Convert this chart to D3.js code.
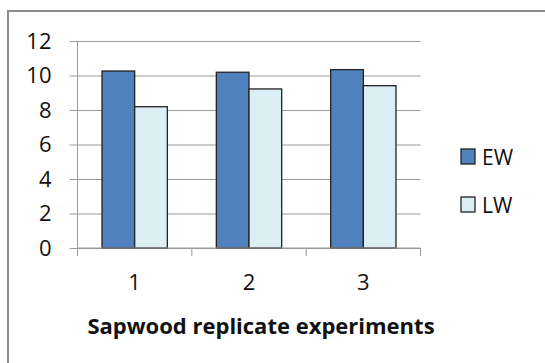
<!DOCTYPE html>
<html>
<head>
<meta charset="utf-8">
<script src="https://cdn.jsdelivr.net/npm/d3@7"></script>
<style>
  html, body { margin: 0; padding: 0; background: #fff; }
  svg { display: block; }
  text { font-family: "Open Sans", Lato, sans-serif; fill: #111; }
</style>
</head>
<body>
<svg id="chart" width="545" height="363"></svg>
<script>
const categories = ["1", "2", "3"];
const seriesNames = ["EW", "LW"];
const ewValues = [10.26, 10.19, 10.34];
const lwValues = [8.19, 9.22, 9.41];
const yTicks = [0, 2, 4, 6, 8, 10, 12];
const xTitle = "Sapwood replicate experiments";
const colors = ["#4F81BD", "#DBEEF3"];

const seriesValues = [ewValues, lwValues];
const svg = d3.select("#chart");
const FONT = "'Open Sans', Lato, sans-serif";

// outer border (only left and top visible in picture)
svg.append("rect")
  .attr("x", 8).attr("y", 11)
  .attr("width", 560).attr("height", 380)
  .attr("fill", "none").attr("stroke", "#8c8c8c").attr("stroke-width", 2);

const plotLeft = 77.5, plotRight = 420.5, plotTop = 41, plotBottom = 248;

const y = d3.scaleLinear().domain([0, 12]).range([plotBottom, plotTop]);
const x0 = d3.scaleBand().domain(categories).range([plotLeft, plotRight]).padding(0);
const x1 = d3.scaleBand().domain(seriesNames).range([0, x0.bandwidth()])
  .paddingInner(0).paddingOuter(0.75);

// gridlines + y ticks
const yAxis = d3.axisLeft(y).tickValues(yTicks).tickSize(8).tickPadding(18)
  .tickFormat(d3.format("d"));
const gy = svg.append("g").attr("transform", `translate(${plotLeft},0)`).call(yAxis);
gy.attr("font-family", FONT).attr("font-size", 22);
gy.select(".domain").remove();
gy.selectAll(".tick line").attr("stroke", "#9a9a9a");
gy.selectAll(".tick text").attr("fill", "#111").attr("dy", "0.34em");
gy.selectAll(".tick").append("line")
  .attr("x1", 0).attr("x2", plotRight - plotLeft)
  .attr("stroke", "#9a9a9a").attr("stroke-width", 1);

// y axis line
svg.append("line")
  .attr("x1", plotLeft).attr("x2", plotLeft).attr("y1", plotTop).attr("y2", plotBottom + 8)
  .attr("stroke", "#9a9a9a");

// bars
const groups = svg.append("g").selectAll("g")
  .data(categories).join("g")
  .attr("transform", d => `translate(${x0(d)},0)`);
groups.selectAll("rect")
  .data((c, i) => seriesNames.map((s, j) => ({ s, j, v: seriesValues[j][i] })))
  .join("rect")
  .attr("x", d => x1(d.s))
  .attr("width", x1.bandwidth())
  .attr("y", d => y(d.v))
  .attr("height", d => y(0) - y(d.v))
  .attr("fill", d => colors[d.j])
  .attr("stroke", "#222").attr("stroke-width", 1.3);

// x axis
const xBound = d3.scaleLinear().domain([0, categories.length]).range([plotLeft, plotRight]);
const gx = svg.append("g");
gx.append("line").attr("x1", plotLeft).attr("x2", plotRight).attr("y1", plotBottom).attr("y2", plotBottom)
  .attr("stroke", "#9a9a9a");
gx.selectAll("line.tk").data(d3.range(categories.length + 1)).join("line")
  .attr("class", "tk")
  .attr("x1", d => xBound(d)).attr("x2", d => xBound(d))
  .attr("y1", plotBottom).attr("y2", plotBottom + 8).attr("stroke", "#9a9a9a");
gx.selectAll("text").data(categories).join("text")
  .attr("x", d => x0(d) + x0.bandwidth() / 2)
  .attr("y", 290)
  .attr("text-anchor", "middle")
  .style("font-size", "22px")
  .text(d => d);

svg.append("text")
  .attr("x", 261).attr("y", 334)
  .attr("text-anchor", "middle")
  .style("font-size", "22px").style("font-weight", "bold")
  .text(xTitle);

// legend
const legend = svg.append("g").selectAll("g").data(seriesNames).join("g")
  .attr("transform", (d, i) => `translate(461,${149 + i * 48})`);
legend.append("rect").attr("width", 14).attr("height", 15)
  .attr("fill", (d, i) => colors[i]).attr("stroke", "#222").attr("stroke-width", 1.3);
legend.append("text").attr("x", 21).attr("y", 15.5)
  .style("font-size", "21px").text(d => d);
</script>
</body>
</html>
